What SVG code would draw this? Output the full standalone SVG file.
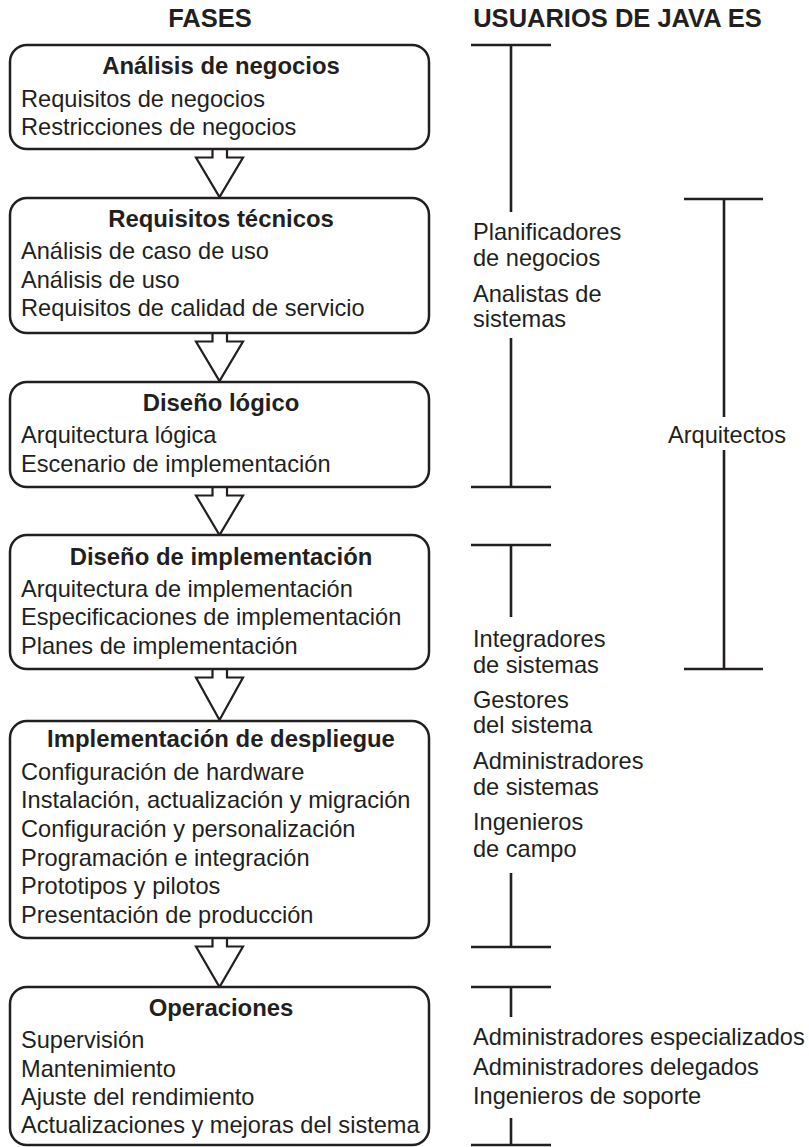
<svg xmlns="http://www.w3.org/2000/svg" width="809" height="1147" viewBox="0 0 809 1147">
<style>
.box{fill:#fff;stroke:#231f20;stroke-width:2.5}
.arr{fill:#fff;stroke:#231f20;stroke-width:2.2;stroke-linejoin:miter}
.ln{stroke:#231f20;stroke-width:2.6;fill:none}
text{font-family:"Liberation Sans",Arial,Helvetica,sans-serif;fill:#231f20}
.h{font-size:25.5px;font-weight:bold;text-anchor:middle}
.t{font-size:23.9px;font-weight:bold;text-anchor:middle}
.b{font-size:23.6px}
</style>
<rect width="809" height="1147" fill="#fff"/>
<text class="h" x="210" y="27">FASES</text>
<text class="h" x="617.5" y="27">USUARIOS DE JAVA ES</text>

<g id="connectors">
<polygon class="arr" points="212.5,149 212.5,157.5 196,157.5 219.5,197 243,157.5 227,157.5 227,149"/>
<polygon class="arr" points="212.5,333 212.5,341.5 196,341.5 219.5,381 243,341.5 227,341.5 227,333"/>
<polygon class="arr" points="212.5,487 212.5,495.5 196,495.5 219.5,535 243,495.5 227,495.5 227,487"/>
<polygon class="arr" points="212.5,669 212.5,677.5 196,677.5 219.5,720 243,677.5 227,677.5 227,669"/>
<polygon class="arr" points="212.5,938 212.5,946.5 196,946.5 219.5,987 243,946.5 227,946.5 227,938"/>
</g>

<g id="fase1">
<rect class="box" x="10" y="45" width="419" height="104" rx="17"/>
<text class="t" x="221" y="74">Análisis de negocios</text>
<text class="b" x="21" y="107">Requisitos de negocios</text>
<text class="b" x="21" y="135">Restricciones de negocios</text>
</g>
<g id="fase2">
<rect class="box" x="10" y="198" width="419" height="135" rx="17"/>
<text class="t" x="221" y="227">Requisitos técnicos</text>
<text class="b" x="21" y="259">Análisis de caso de uso</text>
<text class="b" x="21" y="288">Análisis de uso</text>
<text class="b" x="21" y="316">Requisitos de calidad de servicio</text>
</g>
<g id="fase3">
<rect class="box" x="10" y="382" width="419" height="105" rx="17"/>
<text class="t" x="221" y="411">Diseño lógico</text>
<text class="b" x="21" y="443">Arquitectura lógica</text>
<text class="b" x="21" y="472">Escenario de implementación</text>
</g>
<g id="fase4">
<rect class="box" x="10" y="535" width="419" height="134" rx="17"/>
<text class="t" x="221" y="565">Diseño de implementación</text>
<text class="b" x="21" y="597">Arquitectura de implementación</text>
<text class="b" x="21" y="625">Especificaciones de implementación</text>
<text class="b" x="21" y="654">Planes de implementación</text>
</g>
<g id="fase5">
<rect class="box" x="10" y="721" width="419" height="217" rx="17"/>
<text class="t" x="221" y="747">Implementación de despliegue</text>
<text class="b" x="21" y="780">Configuración de hardware</text>
<text class="b" x="21" y="808">Instalación, actualización y migración</text>
<text class="b" x="21" y="837">Configuración y personalización</text>
<text class="b" x="21" y="866">Programación e integración</text>
<text class="b" x="21" y="894">Prototipos y pilotos</text>
<text class="b" x="21" y="923">Presentación de producción</text>
</g>
<g id="fase6">
<rect class="box" x="10" y="987" width="419" height="158" rx="17"/>
<text class="t" x="221" y="1016">Operaciones</text>
<text class="b" x="21" y="1048">Supervisión</text>
<text class="b" x="21" y="1077">Mantenimiento</text>
<text class="b" x="21" y="1105">Ajuste del rendimiento</text>
<text class="b" x="21" y="1133">Actualizaciones y mejoras del sistema</text>
</g>

<g id="usuarios1">
<path class="ln" d="M471,45H551M511,45V212M511,338V487M471,487H551"/>
<text class="b" x="473" y="240">Planificadores</text>
<text class="b" x="473" y="266">de negocios</text>
<text class="b" x="473" y="302">Analistas de</text>
<text class="b" x="473" y="327">sistemas</text>
</g>
<g id="arquitectos">
<path class="ln" d="M684,199H763M724,199V417M724,450V669M684,669H763"/>
<text class="b" x="727" y="443" text-anchor="middle">Arquitectos</text>
</g>
<g id="usuarios2">
<path class="ln" d="M471,545H551M511,545V617M511,873V947M471,947H551"/>
<text class="b" x="473" y="647">Integradores</text>
<text class="b" x="473" y="673">de sistemas</text>
<text class="b" x="473" y="708">Gestores</text>
<text class="b" x="473" y="733">del sistema</text>
<text class="b" x="473" y="769">Administradores</text>
<text class="b" x="473" y="795">de sistemas</text>
<text class="b" x="473" y="830">Ingenieros</text>
<text class="b" x="473" y="857">de campo</text>
</g>
<g id="usuarios3">
<path class="ln" d="M471,987H551M511,987V1017M511,1118V1145M471,1145H551"/>
<text class="b" x="473" y="1045">Administradores especializados</text>
<text class="b" x="473" y="1075">Administradores delegados</text>
<text class="b" x="473" y="1104">Ingenieros de soporte</text>
</g>
</svg>
